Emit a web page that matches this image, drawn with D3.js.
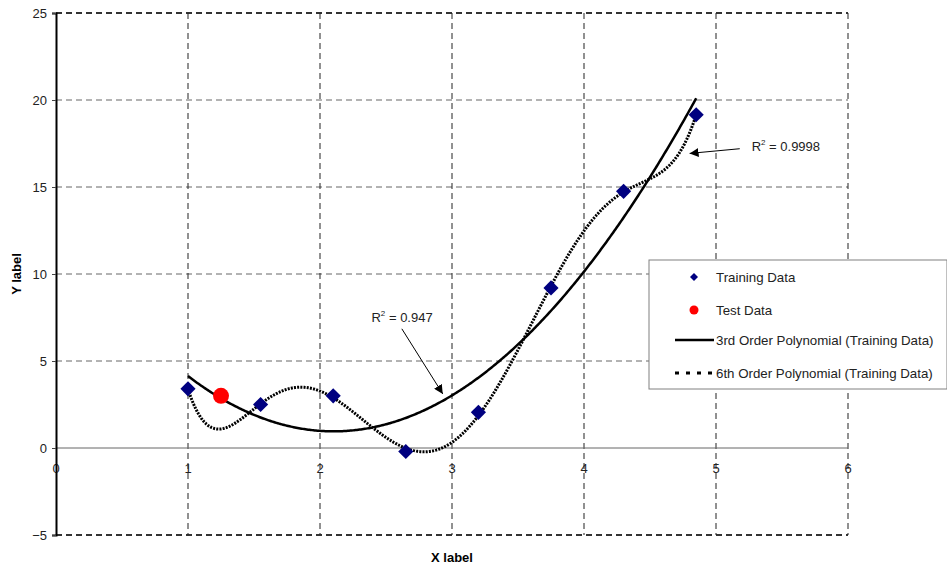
<!DOCTYPE html>
<html>
<head>
<meta charset="utf-8">
<script src="https://cdn.jsdelivr.net/npm/d3@7"></script>
<style>
  body { margin: 0; background: #fff; }
  text { font-family: "Liberation Sans", Arial, sans-serif; }
</style>
</head>
<body>
<div id="chart"></div>
<script>
// training / test data
let trainX = [1.0, 1.55, 2.1, 2.65, 3.2, 3.75, 4.3, 4.85];
let trainY = [3.4, 2.5, 3.0, -0.2, 2.05, 9.2, 14.75, 19.15];
let testX = [1.25];
let testY = [3.0];

let xTicks = [0, 1, 2, 3, 4, 5, 6];
let yTicks = [-5, 0, 5, 10, 15, 20, 25];

let legendLabels = ["Training Data", "Test Data",
  "3rd Order Polynomial (Training Data)", "6th Order Polynomial (Training Data)"];

// R² notes: text position and arrow (from -> to), in data units
let notes = [
  { label: "0.947", tx: 2.39, ty: 7.26, x1: 2.62, y1: 6.85, x2: 2.93, y2: 3.11 },
  { label: "0.9998", tx: 5.27, ty: 17.05, x1: 5.18, y1: 17.2, x2: 4.80, y2: 16.93 }
];

let width = 947, height = 565;
let margin = { left: 56, top: 13, right: 99, bottom: 30 };

let svg = d3.select("#chart").append("svg")
    .attr("width", width)
    .attr("height", height);

let x = d3.scaleLinear().domain([0, 6]).range([margin.left, width - margin.right]);
let y = d3.scaleLinear().domain([-5, 25]).range([height - margin.bottom, margin.top]);

// least squares polynomial fit (Excel-style trendline)
function polyFit(xs, ys, order) {
  let n = order + 1;
  let A = [];
  for (let i = 0; i < n; i++) {
    A.push([]);
    for (let j = 0; j <= n; j++) A[i].push(0);
  }
  xs.forEach(function(xv, k) {
    for (let i = 0; i < n; i++) {
      for (let j = 0; j < n; j++) A[i][j] += Math.pow(xv, i + j);
      A[i][n] += ys[k] * Math.pow(xv, i);
    }
  });
  for (let c = 0; c < n; c++) {
    let p = c;
    for (let r = c + 1; r < n; r++) if (Math.abs(A[r][c]) > Math.abs(A[p][c])) p = r;
    [A[c], A[p]] = [A[p], A[c]];
    for (let r = 0; r < n; r++) {
      if (r === c) continue;
      let f = A[r][c] / A[c][c];
      for (let j = c; j <= n; j++) A[r][j] -= f * A[c][j];
    }
  }
  let coef = A.map(function(row, i) { return row[n] / row[i]; });
  return function(xv) {
    return coef.reduce(function(s, c, i) { return s + c * Math.pow(xv, i); }, 0);
  };
}

let fit3 = polyFit(trainX, trainY, 3);
let fit6 = polyFit(trainX, trainY, 6);
let xs = d3.range(trainX[0], trainX[trainX.length - 1] + 0.0001, 0.01);

// gridlines (top and bottom edges a bit heavier)
svg.append("g").selectAll("line").data(yTicks.filter(function(d) { return d !== 0; }))
    .enter().append("line")
    .attr("x1", x(0)).attr("x2", x(6))
    .attr("y1", function(d) { return y(d); }).attr("y2", function(d) { return y(d); })
    .attr("stroke", function(d) { return (d === -5 || d === 25) ? "#333" : "#666"; })
    .attr("stroke-width", function(d) { return (d === -5 || d === 25) ? 1.8 : 1; })
    .attr("stroke-dasharray", "6,4");

svg.append("g").selectAll("line").data(xTicks.filter(function(d) { return d > 0; }))
    .enter().append("line")
    .attr("x1", function(d) { return x(d); }).attr("x2", function(d) { return x(d); })
    .attr("y1", y(25)).attr("y2", y(-5))
    .attr("stroke", "#222")
    .attr("stroke-dasharray", "6,4");

// x axis at y = 0
svg.append("line")
    .attr("x1", x(0)).attr("x2", x(6))
    .attr("y1", y(0)).attr("y2", y(0))
    .attr("stroke", "#666");

svg.append("g").selectAll("text").data(xTicks)
    .enter().append("text")
    .attr("x", function(d) { return x(d); })
    .attr("y", y(0) + 25)
    .attr("text-anchor", "middle")
    .style("font-size", "13px")
    .attr("fill", "#222")
    .text(function(d) { return d; });

// y axis
svg.append("g")
    .attr("transform", `translate(${x(0)},0)`)
    .call(d3.axisLeft(y).tickValues(yTicks).tickSize(4).tickPadding(5))
    .call(function(g) {
      g.select(".domain").attr("stroke", "#000").attr("stroke-width", 2);
      g.selectAll(".tick line").attr("stroke", "#444");
      g.selectAll(".tick text").style("font-size", "13px").attr("fill", "#222")
        .style("font-family", "Liberation Sans, Arial, sans-serif");
    });

// axis titles
svg.append("text")
    .attr("x", x(3)).attr("y", 562)
    .attr("text-anchor", "middle")
    .style("font-size", "13px").style("font-weight", "bold")
    .text("X label");

svg.append("text")
    .attr("transform", `translate(21, ${y(10)}) rotate(-90)`)
    .attr("text-anchor", "middle")
    .style("font-size", "13px").style("font-weight", "bold")
    .text("Y label");

// trend lines
let line = d3.line().curve(d3.curveLinear);

svg.append("path")
    .attr("d", line(xs.map(function(v) { return [x(v), y(fit6(v))]; })))
    .attr("fill", "none").attr("stroke", "#000")
    .attr("stroke-width", 3).attr("stroke-dasharray", "2,1.2");

svg.append("path")
    .attr("d", line(xs.map(function(v) { return [x(v), y(fit3(v))]; })))
    .attr("fill", "none").attr("stroke", "#000")
    .attr("stroke-width", 2.5);

// points
let diamond = d3.symbol().type(d3.symbolSquare).size(115);

svg.append("g").selectAll("path").data(trainX)
    .enter().append("path")
    .attr("d", diamond)
    .attr("transform", function(d, i) { return `translate(${x(d)},${y(trainY[i])}) rotate(45)`; })
    .attr("fill", "#000080");

svg.append("g").selectAll("circle").data(testX)
    .enter().append("circle")
    .attr("cx", function(d) { return x(d); })
    .attr("cy", function(d, i) { return y(testY[i]); })
    .attr("r", 8)
    .attr("fill", "#ff0000");

// R² notes
svg.append("defs").append("marker")
    .attr("id", "arrow")
    .attr("viewBox", "0 0 10 10")
    .attr("refX", 10).attr("refY", 5)
    .attr("markerWidth", 9).attr("markerHeight", 9)
    .attr("markerUnits", "userSpaceOnUse")
    .attr("orient", "auto")
    .append("path").attr("d", "M0,0L10,5L0,10z").attr("fill", "#000");

notes.forEach(function(n) {
  svg.append("line")
      .attr("x1", x(n.x1)).attr("y1", y(n.y1))
      .attr("x2", x(n.x2)).attr("y2", y(n.y2))
      .attr("stroke", "#000").attr("stroke-width", 1)
      .attr("marker-end", "url(#arrow)");
  let t = svg.append("text")
      .attr("x", x(n.tx)).attr("y", y(n.ty))
      .style("font-size", "13px").attr("fill", "#222");
  t.append("tspan").text("R");
  t.append("tspan").attr("dy", -6).style("font-size", "8px").text("2");
  t.append("tspan").attr("dy", 6).text(" = " + n.label);
});

// legend
let lg = svg.append("g").attr("transform", "translate(649,260)");
lg.append("rect")
    .attr("width", 298).attr("height", 129)
    .attr("fill", "#fff").attr("stroke", "#808080");

let rowY = [17, 50, 80, 113];
lg.selectAll("text.lab").data(legendLabels)
    .enter().append("text")
    .attr("class", "lab")
    .attr("x", 67)
    .attr("y", function(d, i) { return rowY[i] + 5; })
    .style("font-size", "13.3px").attr("fill", "#222")
    .text(function(d) { return d; });

lg.append("path")
    .attr("d", d3.symbol().type(d3.symbolSquare).size(32))
    .attr("transform", `translate(45,${rowY[0]}) rotate(45)`)
    .attr("fill", "#000080");
lg.append("circle").attr("cx", 45).attr("cy", rowY[1]).attr("r", 4.5).attr("fill", "#ff0000");
lg.append("line").attr("x1", 26).attr("x2", 65).attr("y1", rowY[2]).attr("y2", rowY[2])
    .attr("stroke", "#000").attr("stroke-width", 2.5);
lg.append("line").attr("x1", 26).attr("x2", 65).attr("y1", rowY[3]).attr("y2", rowY[3])
    .attr("stroke", "#000").attr("stroke-width", 3).attr("stroke-dasharray", "4,7");
</script>
</body>
</html>
